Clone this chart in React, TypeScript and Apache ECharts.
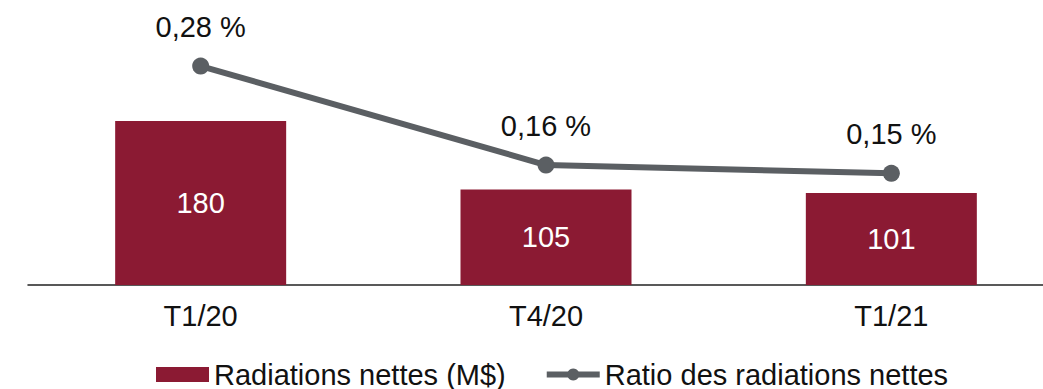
import React, { useEffect, useRef } from "react";
import * as echarts from "echarts";

const categories = ["T1/20", "T4/20", "T1/21"];
const netWriteOffs = [180, 105, 101];
const writeOffRatio = [0.28, 0.16, 0.15];
const barName = "Radiations nettes (M$)";
const lineName = "Ratio des radiations nettes";

export default function App() {
  const ref = useRef<HTMLDivElement>(null);
  useEffect(() => {
    const chart = echarts.init(ref.current!, null, { renderer: "svg" });
    const font = "'Liberation Sans', Arial, sans-serif";
    chart.setOption({
      animation: false,
      textStyle: { fontFamily: font },
      grid: { left: 28, top: 20, width: 1036, bottom: 104, containLabel: false },
      legend: {
        bottom: 0,
        left: 156,
        padding: 0,
        itemGap: 38,
        itemWidth: 53,
        itemHeight: 15,
        textStyle: { fontSize: 29, color: "#111", fontFamily: font },
        data: [
          { name: barName, icon: "rect" },
          { name: lineName, lineStyle: { width: 6 } },
        ],
      },
      xAxis: {
        type: "category",
        data: categories,
        axisLine: { lineStyle: { color: "#222", width: 1.5 } },
        axisTick: { show: false },
        axisLabel: { fontSize: 29, color: "#111", margin: 16 },
      },
      yAxis: [
        { type: "value", min: 0, max: 291, show: false, splitLine: { show: false } },
        { type: "value", min: 0.01455, max: 0.3358, show: false, splitLine: { show: false } },
      ],
      series: [
        {
          name: barName,
          type: "bar",
          data: netWriteOffs,
          barWidth: 171,
          itemStyle: { color: "#8B1A33" },
          label: { show: true, position: "inside", color: "#fff", fontSize: 29 },
        },
        {
          name: lineName,
          type: "line",
          yAxisIndex: 1,
          data: writeOffRatio,
          symbol: "circle",
          symbolSize: 17,
          lineStyle: { color: "#5B5F63", width: 6 },
          itemStyle: { color: "#5B5F63" },
          label: {
            show: true,
            position: "top",
            distance: 16,
            fontSize: 29,
            color: "#111",
            formatter: (p: any) => p.value.toFixed(2).replace(".", ",") + " %",
          },
        },
      ],
    });
    return () => chart.dispose();
  }, []);
  return (
    <div style={{ position: "fixed", left: 0, top: 0, width: 1043, height: 389, overflow: "hidden", background: "#fff" }}>
      <div ref={ref} style={{ width: 1080, height: 389 }} />
    </div>
  );
}
